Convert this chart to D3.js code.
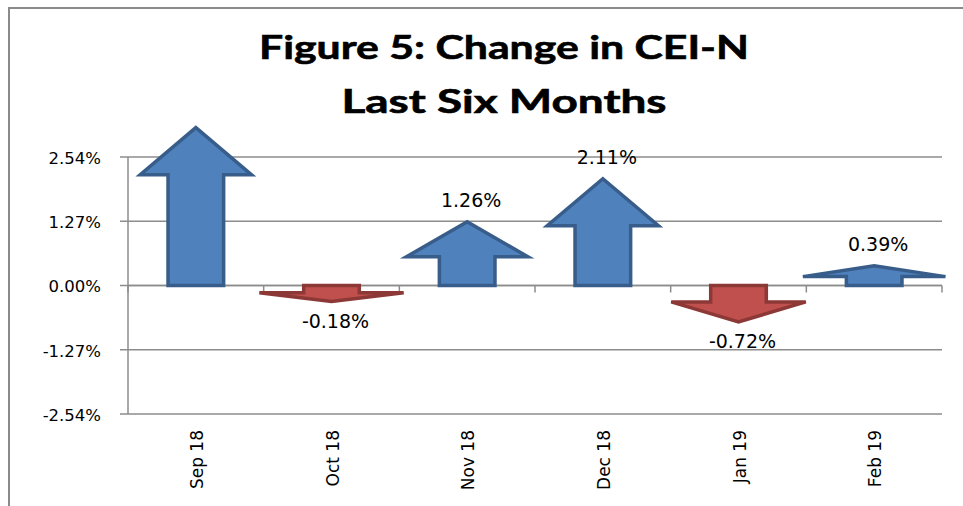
<!DOCTYPE html>
<html>
<head>
<meta charset="utf-8">
<script src="https://cdn.jsdelivr.net/npm/d3@7"></script>
<style>
  body { margin: 0; background: #fff; }
  svg { display: block; }
</style>
</head>
<body>
<div id="chart"></div>
<script>
/*
    Figure 5: change in CEI-N, drawn as up / down arrows
 */

var months = ["Sep 18", "Oct 18", "Nov 18", "Dec 18", "Jan 19", "Feb 19"];
var changes = [3.12, -0.18, 1.26, 2.11, -0.72, 0.39];
var show_label = [false, true, true, true, true, true];
var y_ticks = [-2.54, -1.27, 0, 1.27, 2.54];
var title_lines = ["Figure 5: Change in CEI-N", "Last Six Months"];

var svg_size = {'width': 963, 'height': 506};
var plot = {'left': 128, 'right': 942, 'top': 157, 'bottom': 414};
// the original picture is stretched sideways, so the title is too
var title_layout = [{'y': 59, 'width': 490}, {'y': 113, 'width': 325}];

var svg = d3.select("#chart")
    .append("svg")
    .attr('width', svg_size.width)
    .attr('height', svg_size.height);

// chart border (cropped at right and bottom)
svg.append('rect')
    .attr('x', 9).attr('y', 8)
    .attr('width', 1000).attr('height', 600)
    .style('fill', 'none')
    .style('stroke', '#8a8a8a')
    .style('stroke-width', 2);

svg.selectAll('.title')
    .data(title_lines)
    .enter()
    .append('text')
    .attr('x', function(d, i){ return 504 - title_layout[i].width/2; })
    .attr('y', function(d, i){ return title_layout[i].y; })
    .attr('textLength', function(d, i){ return title_layout[i].width; })
    .attr('lengthAdjust', 'spacingAndGlyphs')
    .style('font-family', 'Lato, "Open Sans", sans-serif')
    .style('font-weight', 'bold')
    .style('font-size', '33px')
    .style('stroke', '#000')
    .style('stroke-width', 0.6)
    .text(function(d){ return d; });

var x_scale = d3.scaleBand()
    .domain(months)
    .range([plot.left, plot.right]);

var y_scale = d3.scaleLinear()
    .domain([-2.54, 2.54])
    .range([plot.bottom, plot.top]);

var label_font = '"DejaVu Sans", Verdana, sans-serif';

function pct(d){
    return d3.format('.2f')(d).replace('\u2212', '-') + '%';
}

// gridlines
svg.append('g')
    .selectAll('line')
    .data(y_ticks)
    .enter()
    .append('line')
    .attr('x1', plot.left - 8)
    .attr('x2', plot.right)
    .attr('y1', function(d){ return y_scale(d); })
    .attr('y2', function(d){ return y_scale(d); })
    .style('stroke', '#8c8c8c')
    .style('stroke-width', 1.5);

// y axis
var y_axis = d3.axisLeft(y_scale)
    .tickValues(y_ticks)
    .tickSize(0)
    .tickPadding(27)
    .tickFormat(pct);

var y_axis_group = svg.append('g')
    .attr('transform', 'translate(' + plot.left + ',1)')
    .call(y_axis);
y_axis_group.select('.domain').remove();
y_axis_group.selectAll('text')
    .style('font-family', label_font)
    .style('font-size', '16.5px')
    .style('fill', '#000');

svg.append('line')
    .attr('x1', plot.left).attr('x2', plot.left)
    .attr('y1', plot.top).attr('y2', plot.bottom)
    .style('stroke', '#8c8c8c')
    .style('stroke-width', 1.5);

// category axis at zero
var zero_y = y_scale(0);
svg.append('line')
    .attr('x1', plot.left).attr('x2', plot.right)
    .attr('y1', zero_y).attr('y2', zero_y)
    .style('stroke', '#8c8c8c')
    .style('stroke-width', 1.5);

var bounds = months.map(function(m){ return x_scale(m); }).concat([plot.right]);
svg.append('g')
    .selectAll('line')
    .data(bounds)
    .enter()
    .append('line')
    .attr('x1', function(d){ return d; })
    .attr('x2', function(d){ return d; })
    .attr('y1', zero_y)
    .attr('y2', zero_y + 7)
    .style('stroke', '#8c8c8c')
    .style('stroke-width', 1.5);

svg.append('g')
    .selectAll('text')
    .data(months)
    .enter()
    .append('text')
    .attr('transform', function(d){
        var cx = x_scale(d) + x_scale.bandwidth()/2;
        return 'translate(' + (cx + 1) + ',' + 430 + ') rotate(-90)';
    })
    .attr('text-anchor', 'end')
    .attr('dominant-baseline', 'central')
    .style('font-family', label_font)
    .style('font-size', '17px')
    .text(function(d){ return d; });

// arrows
var bw = x_scale.bandwidth();

function arrow_geom(d, i){
    var cx = x_scale(months[i]) + bw/2;
    var y0 = zero_y;
    var h = Math.max(Math.abs(y_scale(d) - y0), 16);
    var dir = d >= 0 ? -1 : 1;
    var tip = y0 + dir*h;
    var head_h = Math.min(47, h*0.55);
    var head_w = bw*(0.82 + 0.3*(1 - head_h/47));
    var shaft_w = bw*0.41;
    return {cx: cx, y0: y0, tip: tip, dir: dir, head_h: head_h, head_w: head_w, shaft_w: shaft_w};
}

var items = changes.map(function(v, i){ return {value: v, index: i}; });

svg.append('g')
    .selectAll('path')
    .data(items)
    .enter()
    .append('path')
    .attr('d', function(d){
        var g = arrow_geom(d.value, d.index);
        var base = g.tip - g.dir*g.head_h;
        var p = d3.path();
        p.moveTo(g.cx - g.shaft_w/2, g.y0);
        p.lineTo(g.cx - g.shaft_w/2, base);
        p.lineTo(g.cx - g.head_w/2, base);
        p.lineTo(g.cx, g.tip);
        p.lineTo(g.cx + g.head_w/2, base);
        p.lineTo(g.cx + g.shaft_w/2, base);
        p.lineTo(g.cx + g.shaft_w/2, g.y0);
        p.closePath();
        return p.toString();
    })
    .style('fill', function(d){ return d.value >= 0 ? '#4f81bd' : '#c0504d'; })
    .style('stroke', function(d){ return d.value >= 0 ? '#385d8a' : '#8c3836'; })
    .style('stroke-width', 3.5)
    .style('stroke-linejoin', 'miter');

svg.append('g')
    .selectAll('text')
    .data(items.filter(function(d){ return show_label[d.index]; }))
    .enter()
    .append('text')
    .attr('x', function(d){ return arrow_geom(d.value, d.index).cx + 4; })
    .attr('y', function(d){
        var g = arrow_geom(d.value, d.index);
        return d.value >= 0 ? g.tip - 22 : g.tip + 19;
    })
    .attr('text-anchor', 'middle')
    .attr('dominant-baseline', 'central')
    .style('font-family', label_font)
    .style('font-size', '19px')
    .text(function(d){ return pct(d.value); });
</script>
</body>
</html>
